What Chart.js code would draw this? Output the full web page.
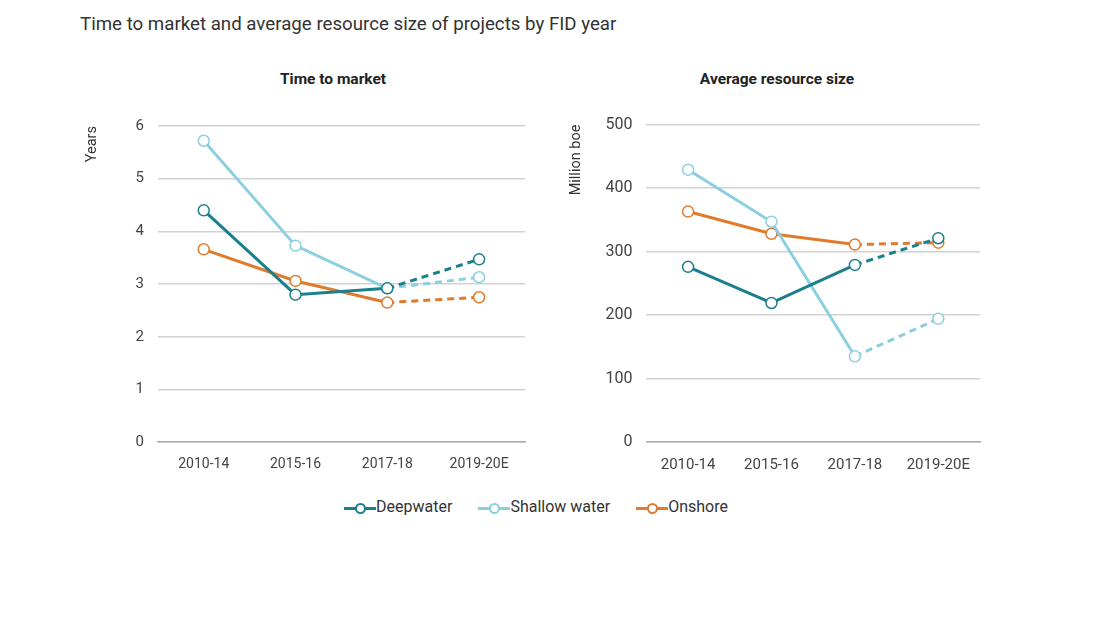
<!DOCTYPE html>
<html>
<head>
<meta charset="utf-8">
<script src="https://cdn.jsdelivr.net/npm/chart.js@4"></script>
<style>
  body { margin: 0; background: #fff; font-family: Roboto, "Noto Sans", sans-serif; }
  #wrap { position: relative; width: 1100px; height: 619px; }
  #title { position: absolute; left: 80px; top: 13px; font-size: 18.7px; color: #333; }
  .sub { position: absolute; top: 70px; width: 300px; text-align: center; font-size: 15.5px; font-weight: bold; color: #222; }
  .box { position: absolute; }
  #legend { position: absolute; top: 496px; left: -14px; width: 1100px; text-align: center; font-size: 16px; color: #333; }
  .item { display: inline-block; margin: 0 13px; vertical-align: middle; }
  .swatch { display: inline-block; position: relative; width: 32px; height: 10px; vertical-align: middle; }
  .swatch .ln { position: absolute; left: 0; right: 0; top: 4px; height: 3px; }
  .swatch .dot { position: absolute; left: 11px; top: 0; width: 7px; height: 7px; border-radius: 50%; background: #fff; border: 2px solid; }
</style>
</head>
<body>
<div id="wrap">
  <div id="title">Time to market and average resource size of projects by FID year</div>
  <div class="sub" style="left:183px;">Time to market</div>
  <div class="sub" style="left:627px;">Average resource size</div>
  <div class="box" style="left:80px; top:103px; width:480px; height:376px;"><canvas id="timeChart"></canvas></div>
  <div class="box" style="left:564px; top:101px; width:437px; height:379px;"><canvas id="sizeChart"></canvas></div>
  <div id="legend"></div>
</div>
<script>
// categories and series
var periods = ["2010-14", "2015-16", "2017-18", "2019-20E"];
var seriesNames = ["Deepwater", "Shallow water", "Onshore"];
var seriesColors = ["#1b7f8c", "#8ccfdf", "#e07b2c"];

var timeDeep = [4.4, 2.8, 2.92, 3.47];
var timeShallow = [5.72, 3.73, 2.92, 3.13];
var timeOnshore = [3.66, 3.06, 2.65, 2.75];

var sizeDeep = [276, 219, 279, 321];
var sizeShallow = [429, 347, 135, 194];
var sizeOnshore = [363, 328, 311, 314];

// last segment (the estimate) is dashed
function makeSet(name, color, values) {
    return {
        label: name,
        data: values,
        borderColor: color,
        backgroundColor: "#fff",
        borderWidth: 3,
        pointRadius: 5.5,
        pointBorderWidth: 1.5,
        pointBackgroundColor: "#fff",
        pointBorderColor: color,
        tension: 0,
        segment: {
            borderDash: function(ctx) { return ctx.p1DataIndex === periods.length - 1 ? [7, 5] : undefined; }
        }
    };
}

function makeChart(id, yTitle, sets, max, step, tickPad, rightPad, fontSize, titlePad) {
    var ctx = document.getElementById(id).getContext("2d");
    return new Chart(ctx, {
        type: "line",
        data: { labels: periods, datasets: sets },
        options: {
            responsive: true,
            maintainAspectRatio: false,
            animation: false,
            layout: { padding: { top: 18, right: rightPad, bottom: 0, left: 0 } },
            plugins: {
                legend: { display: false },
                tooltip: { enabled: false }
            },
            scales: {
                x: {
                    offset: true,
                    grid: { display: false },
                    border: { color: "#aaa", width: 1.5 },
                    ticks: { color: "#444", font: { family: "Roboto", size: fontSize }, padding: 6 }
                },
                y: {
                    min: 0,
                    max: max,
                    ticks: { stepSize: step, color: "#444", font: { family: "Roboto", size: fontSize + 1 }, padding: tickPad },
                    grid: { color: "#d2d2d2", lineWidth: 1.5, drawTicks: false },
                    border: { display: false },
                    title: {
                        display: true,
                        text: yTitle,
                        align: "end",
                        color: "#333",
                        font: { family: "Roboto", size: 14.5 },
                        padding: { bottom: titlePad }
                    }
                }
            }
        }
    });
}

makeChart("timeChart", "Years", [
    makeSet(seriesNames[0], seriesColors[0], timeDeep),
    makeSet(seriesNames[1], seriesColors[1], timeShallow),
    makeSet(seriesNames[2], seriesColors[2], timeOnshore)
], 6, 1, 14, 35, 14, 20);

makeChart("sizeChart", "Million boe", [
    makeSet(seriesNames[0], seriesColors[0], sizeDeep),
    makeSet(seriesNames[1], seriesColors[1], sizeShallow),
    makeSet(seriesNames[2], seriesColors[2], sizeOnshore)
], 500, 100, 14, 21, 15, 6);

// shared legend
var html = [];
for (var i = 0; i < seriesNames.length; i++) {
    html.push('<span class="item"><span class="swatch"><span class="ln" style="background:' + seriesColors[i] + '"></span>' +
        '<span class="dot" style="border-color:' + seriesColors[i] + '"></span></span>' + seriesNames[i] + '</span>');
}
document.getElementById("legend").innerHTML = html.join("");
</script>
</body>
</html>
